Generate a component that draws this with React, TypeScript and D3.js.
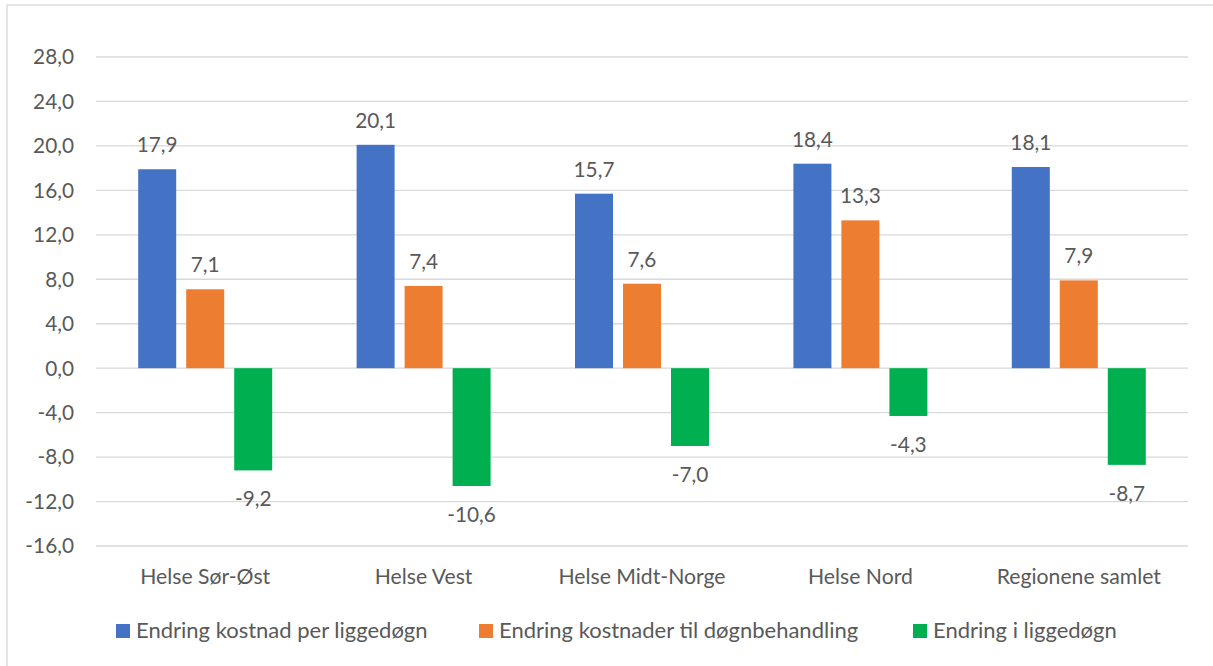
import React from "react";
import * as d3 from "d3";

const categories = ["Helse Sør-Øst", "Helse Vest", "Helse Midt-Norge", "Helse Nord", "Regionene samlet"];
const seriesNames = [
  "Endring kostnad per liggedøgn",
  "Endring kostnader til døgnbehandling",
  "Endring i liggedøgn",
];
const kostnadPerLiggedogn = [17.9, 20.1, 15.7, 18.4, 18.1];
const kostnaderDognbehandling = [7.1, 7.4, 7.6, 13.3, 7.9];
const endringLiggedogn = [-9.2, -10.6, -7.0, -4.3, -8.7];
const yTicks = [-16, -12, -8, -4, 0, 4, 8, 12, 16, 20, 24, 28];
const colors = ["#4472C4", "#ED7D31", "#00B050"];

const W = 1213;
const H = 666;
const FONT = "Lato, 'Open Sans', sans-serif";
const TEXT = "#595959";

const fmt = (v: number) => v.toFixed(1).replace(".", ",");

export default function App() {
  const series = [kostnadPerLiggedogn, kostnaderDognbehandling, endringLiggedogn];
  const x = d3.scaleBand<string>().domain(categories).range([96, 1188]).padding(0);
  const y = d3.scaleLinear().domain([-16, 28]).range([546, 57]);
  const inner = d3
    .scaleBand<number>()
    .domain([0, 1, 2])
    .range([-67, 67])
    .paddingInner(10 / 48)
    .paddingOuter(0);
  const legendX = [116, 479, 913];

  return (
    <svg
      width={W}
      height={H}
      style={{ position: "absolute", left: 0, top: 0 }}
      fontFamily={FONT}
    >
      <rect x={0} y={0} width={W} height={H} fill="#fff" />
      <rect x={7} y={5} width={W + 10} height={H + 10} fill="none" stroke="#d9d9d9" strokeWidth={1.3} />
      {yTicks.map((t) => (
        <g key={t}>
          <line x1={96} x2={1188} y1={y(t)} y2={y(t)} stroke="#d9d9d9" strokeWidth={1.3} />
          <text x={74} y={y(t) + 7.4} textAnchor="end" fontSize={20.8} fill={TEXT}>
            {fmt(t)}
          </text>
        </g>
      ))}
      {categories.map((c, ci) => {
        const cx = (x(c) as number) + x.bandwidth() / 2;
        return (
          <g key={c}>
            {series.map((s, si) => {
              const v = s[ci];
              const bx = cx + (inner(si) as number);
              const y0 = y(0);
              const yv = y(v);
              const top = Math.min(y0, yv);
              const h = Math.abs(yv - y0);
              return (
                <g key={si}>
                  <rect x={bx} y={top} width={inner.bandwidth()} height={h} fill={colors[si]} />
                  <text
                    x={bx + inner.bandwidth() / 2}
                    y={v >= 0 ? yv - 17 : yv + 36}
                    textAnchor="middle"
                    fontSize={20.8}
                    fill={TEXT}
                  >
                    {fmt(v)}
                  </text>
                </g>
              );
            })}
            <text x={cx} y={584} textAnchor="middle" fontSize={21.2} fill={TEXT}>
              {c}
            </text>
          </g>
        );
      })}
      {seriesNames.map((n, i) => (
        <g key={n}>
          <rect x={legendX[i]} y={624} width={14} height={14} fill={colors[i]} />
          <text x={legendX[i] + 20} y={638} fontSize={22} fill={TEXT}>
            {n}
          </text>
        </g>
      ))}
    </svg>
  );
}
